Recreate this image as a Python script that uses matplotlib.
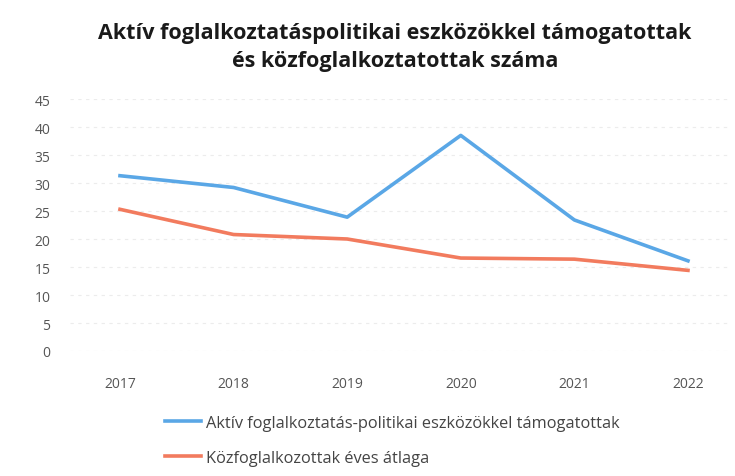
import matplotlib.pyplot as plt
import numpy as np

years = ["2017", "2018", "2019", "2020", "2021", "2022"]
aktiv = [31.3, 29.2, 23.9, 38.5, 23.4, 16.1]
kozfog = [25.3, 20.8, 20.0, 16.6, 16.4, 14.4]
yticks = [0, 5, 10, 15, 20, 25, 30, 35, 40, 45]

label_aktiv = "Aktív foglalkoztatás-politikai eszközökkel támogatottak"
label_koz = "Közfoglalkozottak éves átlaga"
title = "Aktív foglalkoztatáspolitikai eszközökkel támogatottak\nés közfoglalkoztatottak száma"

plt.rcParams['font.family'] = ['Open Sans', 'DejaVu Sans']

fig = plt.figure(figsize=(7.35, 4.77), dpi=100)
ax = fig.add_axes([70 / 735, 1 - 352 / 477, 660 / 735, 252 / 477])

x = np.arange(len(years))
ax.plot(x, aktiv, color="#5AA7E6", lw=2.6, label=label_aktiv, solid_joinstyle="round")
ax.plot(x, kozfog, color="#F27B5E", lw=2.6, label=label_koz, solid_joinstyle="round")

ax.set_xlim(-0.44, 5.37)
ax.set_ylim(0, 45)
ax.set_xticks(x)
ax.set_xticklabels(years)
ax.set_yticks(yticks)
ax.tick_params(length=0, colors="#555555", labelsize=10)
ax.tick_params(axis="x", pad=18)
ax.tick_params(axis="y", pad=14)
for lab in ax.get_yticklabels():
    lab.set_horizontalalignment("right")

ax.grid(axis="y", color="#ececec", lw=0.8, ls=(0, (3, 4)))
for s in ax.spines.values():
    s.set_visible(False)

fig.text(0.537, 0.90, title, ha="center", va="center", fontsize=15.5,
         fontweight="bold", color="#1a1a1a", linespacing=1.4)

fig.legend(loc="upper left", bbox_to_anchor=(150 / 735, 1 - 401 / 477),
           frameon=False, fontsize=11.8, handlelength=2.2, handletextpad=0.3,
           labelspacing=1.15, labelcolor="#444444")

fig.savefig("out.png", dpi=100)
